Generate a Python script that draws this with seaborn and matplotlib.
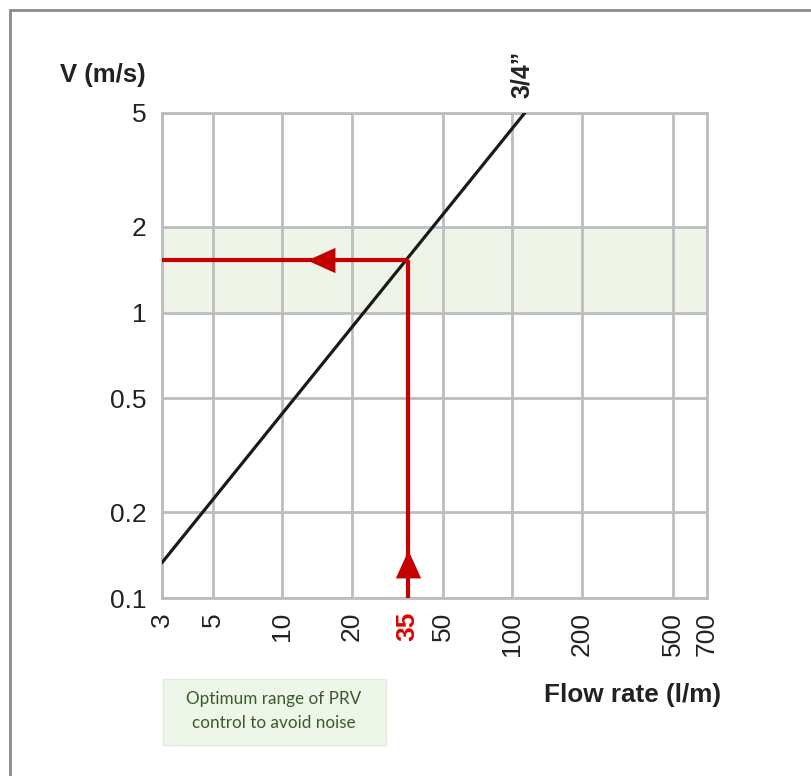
import matplotlib
matplotlib.use("Agg")
import matplotlib.pyplot as plt
import seaborn as sns
import pandas as pd
from matplotlib.patches import Rectangle
from matplotlib.lines import Line2D

# data
x_ticks = [3, 5, 10, 20, 35, 50, 100, 200, 500, 700]
y_ticks = [0.1, 0.2, 0.5, 1, 2, 5]
pipe_flow = [3, 113]        # l/m
pipe_velocity = [0.133, 5]  # m/s
optimum_range = [1, 2]
example_flow = 35
example_velocity = 1.53

sns.set_theme(style="white")
plt.rcParams['font.family'] = ['Liberation Sans', 'DejaVu Sans']

fig = plt.figure(figsize=(8.11, 7.76), dpi=100)
ax = fig.add_axes([162 / 811, 1 - 598 / 776, 545 / 811, 485 / 776])

grid_col = "#bdbdc0"
red = "#c40000"
txt = "#222222"

ax.set_xscale("log")
ax.set_yscale("log")
ax.set_xlim(3, 700)
ax.set_ylim(0.1, 5)

# optimum band
ax.axhspan(optimum_range[0], optimum_range[1], color="#eef5e8", zorder=0)

for xv in x_ticks:
    if xv != example_flow:
        ax.axvline(xv, color=grid_col, lw=2, zorder=1)
for yv in y_ticks:
    ax.axhline(yv, color=grid_col, lw=2, zorder=1)

pipe = pd.DataFrame({"flow": pipe_flow, "velocity": pipe_velocity})
sns.lineplot(data=pipe, x="flow", y="velocity", color="#1a1a1a", lw=2.3, ax=ax, zorder=3)

# reading example
ax.plot([x_ticks[0], example_flow], [example_velocity, example_velocity],
        color=red, lw=3, zorder=4, solid_capstyle="butt")
ax.plot([example_flow, example_flow], [y_ticks[0], example_velocity],
        color=red, lw=3, zorder=4, solid_capstyle="butt")
left_head = [(-1, 0), (0.55, 0.7), (0.55, -0.7), (-1, 0)]
up_head = [(0, 1), (0.7, -0.55), (-0.7, -0.55), (0, 1)]
ax.plot([15.3], [example_velocity], marker=left_head, ms=26, color=red, mec=red, mew=0, zorder=5)
ax.plot([example_flow], [0.127], marker=up_head, ms=26, color=red, mec=red, mew=0, zorder=5)

ax.set_xticks(x_ticks)
ax.set_xticklabels([str(v) for v in x_ticks], rotation=90, fontsize=19, color=txt)
ax.set_yticks(y_ticks)
ax.set_yticklabels([f"{v:g}" for v in y_ticks], fontsize=19, color=txt)
ax.minorticks_off()
ax.tick_params(axis="y", length=0, pad=11)
ax.tick_params(axis="x", length=0, pad=10)
for lbl in ax.get_xticklabels():
    if lbl.get_text() == str(example_flow):
        lbl.set_color("#e00000")
        lbl.set_fontweight("bold")
ax.set_xlabel("")
ax.set_ylabel("")
for sp in ax.spines.values():
    sp.set_color(grid_col)
    sp.set_linewidth(2)

fig.text(103 / 811, 1 - 75 / 776, "V (m/s)", fontsize=18.5, fontweight="bold",
         ha="center", va="center", color=txt)
fig.text(632 / 811, 1 - 695 / 776, "Flow rate (l/m)", fontsize=18.8, fontweight="bold",
         ha="center", va="center", color=txt)
fig.text(522 / 811, 1 - 74 / 776, "3/4\u201d", fontsize=18, fontweight="bold",
         rotation=90, ha="center", va="center", color=txt)

# note box
fig.patches.append(Rectangle((163 / 811, 1 - 745 / 776), 223 / 811, 66 / 776,
                             transform=fig.transFigure, facecolor="#eef6e9",
                             edgecolor="#e0ecd8", lw=1))
fig.text(274 / 811, 1 - 711 / 776, "Optimum range of PRV\ncontrol to avoid noise",
         fontsize=12.3, family="Lato", color="#3b5a2c", ha="center", va="center",
         linespacing=1.6)

# outer frame
fig.lines.append(Line2D([10 / 811, 10 / 811], [0, 1 - 10 / 776], transform=fig.transFigure,
                        color="#8a8a8a", lw=2))
fig.lines.append(Line2D([10 / 811, 1], [1 - 10 / 776, 1 - 10 / 776], transform=fig.transFigure,
                        color="#8a8a8a", lw=2))

fig.savefig("out.png", dpi=100)
